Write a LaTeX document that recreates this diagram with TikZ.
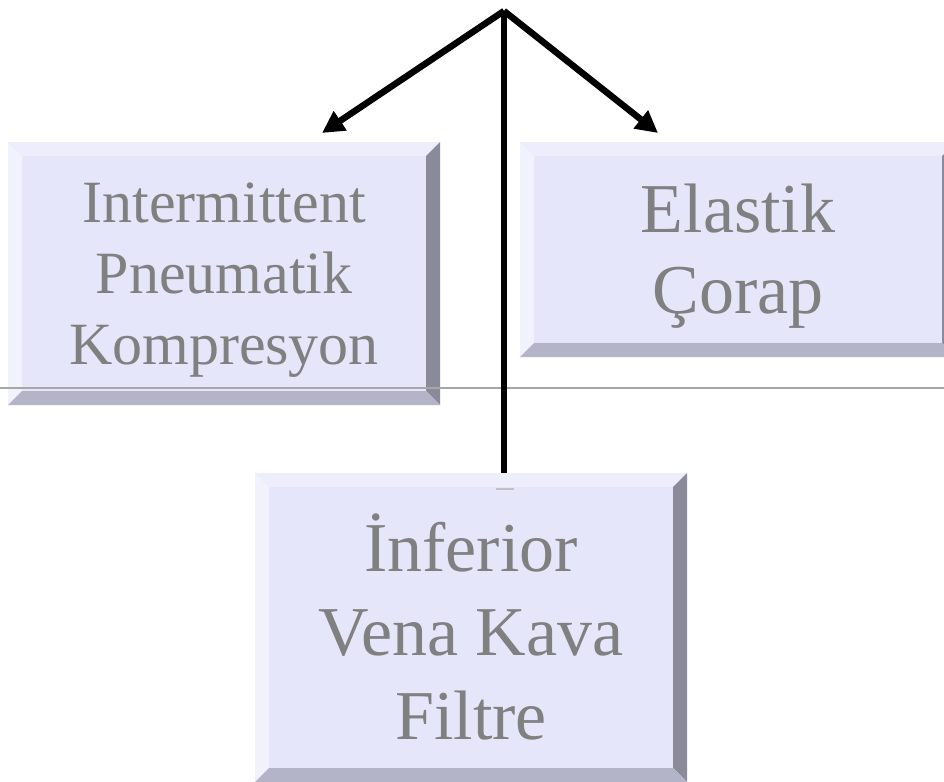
\documentclass[tikz,border=0pt]{standalone}
\usepackage{fontspec}
\setmainfont{Liberation Serif}
\usetikzlibrary{calc,arrows.meta}
\definecolor{face}{HTML}{E6E6FA}
\definecolor{bevtop}{HTML}{EDEDFC}
\definecolor{bevleft}{HTML}{F2F2FD}
\definecolor{bevright}{HTML}{8A8A9A}
\definecolor{bevbottom}{HTML}{B4B4C8}
\definecolor{txt}{HTML}{808080}
\definecolor{rulegray}{HTML}{A6A6A6}
\tikzset{
  bevelbox/.style={rectangle, fill=face, inner sep=0pt,
    path picture={
      \fill[bevtop] (path picture bounding box.north west) -- (path picture bounding box.north east)
        -- ($(path picture bounding box.north east)+(-14pt,-14pt)$)
        -- ($(path picture bounding box.north west)+(14pt,-14pt)$) -- cycle;
      \fill[bevleft] (path picture bounding box.north west) -- (path picture bounding box.south west)
        -- ($(path picture bounding box.south west)+(14pt,14pt)$)
        -- ($(path picture bounding box.north west)+(14pt,-14pt)$) -- cycle;
      \fill[bevright] (path picture bounding box.north east) -- (path picture bounding box.south east)
        -- ($(path picture bounding box.south east)+(-14pt,14pt)$)
        -- ($(path picture bounding box.north east)+(-14pt,-14pt)$) -- cycle;
      \fill[bevbottom] (path picture bounding box.south west) -- (path picture bounding box.south east)
        -- ($(path picture bounding box.south east)+(-14pt,14pt)$)
        -- ($(path picture bounding box.south west)+(14pt,14pt)$) -- cycle;
    }},
  boxtext/.style={text=txt, align=center, inner sep=0pt},
  link/.style={line width=6.5pt, line join=miter},
  arrowlink/.style={link, -{Triangle[length=22pt,width=22pt]}}
}
\begin{document}
\begin{tikzpicture}[x=1pt,y=-1pt]
  \useasboundingbox (0,0) rectangle (944,781);
  \begin{scope}
    \clip (0,0) rectangle (944,781);
    % the three boxes
    \node[bevelbox, minimum width=432pt, minimum height=263pt] (ipk) at (224,273.5) {};
    \node[bevelbox, minimum width=436pt, minimum height=215pt] (ec) at (738,249.5) {};
    \node[bevelbox, minimum width=432pt, minimum height=309pt] (ivk) at (471,627.5) {};
    % their labels
    \node[boxtext, font=\fontsize{60}{71}\selectfont] (ipktext) at ($(ipk.center)+(0,7)$)
          {Intermittent\\Pneumatik\\Kompresyon};
    \node[boxtext, font=\fontsize{70}{81}\selectfont] (ectext) at ($(ec.center)+(0,7)$)
          {Elastik\\Çorap};
    \node[boxtext, font=\fontsize{70}{84}\selectfont] (ivktext) at ($(ivk.center)+(0,-1)$)
          {İnferior\\Vena Kava\\Filtre};
    % thin horizontal rule
    \coordinate (ruleL) at (0,388);
    \coordinate (ruleR) at (944,388);
    \draw[rulegray, line width=1.5pt] (ruleL) -- (ruleR);
    \coordinate (mark) at (505,489);
    \draw[rulegray!70, line width=1.5pt] ($(mark)+(-9pt,0)$) -- ($(mark)+(9pt,0)$);
  \end{scope}
  % connectors from the top junction
  \coordinate (apex) at (504,11);
  \coordinate (tipL) at (322,133);
  \coordinate (tipR) at (658,133);
  \draw[link] (apex) -- (ivk.north -| apex);
  \draw[arrowlink] (apex) -- (tipL);
  \draw[arrowlink] (apex) -- (tipR);
\end{tikzpicture}
\end{document}
